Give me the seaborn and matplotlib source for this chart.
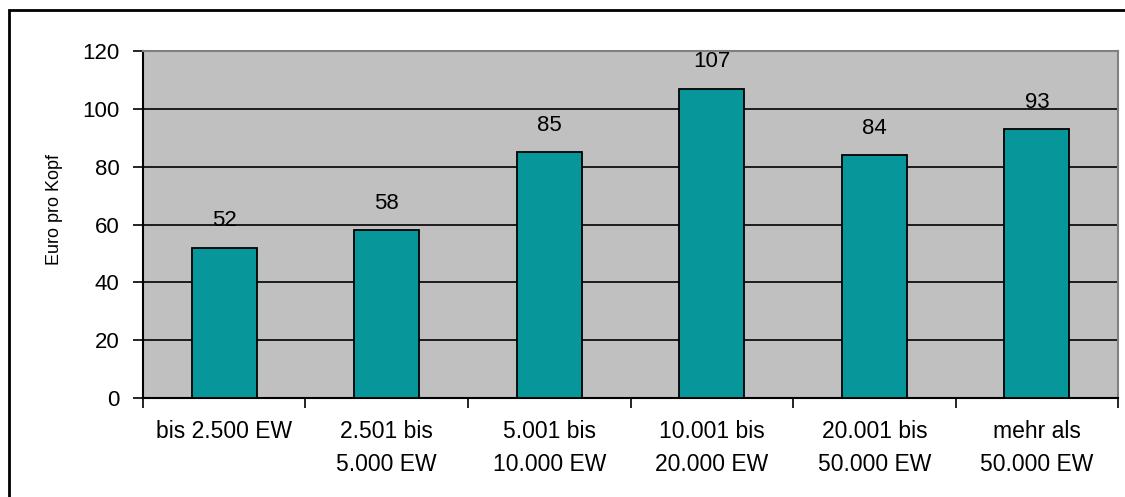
import seaborn as sns
import matplotlib.pyplot as plt
from matplotlib.patches import Rectangle

# --- data ---
categories = ["bis 2.500 EW", "2.501 bis\n5.000 EW", "5.001 bis\n10.000 EW",
              "10.001 bis\n20.000 EW", "20.001 bis\n50.000 EW", "mehr als\n50.000 EW"]
values = [52, 58, 85, 107, 84, 93]
y_ticks = [0, 20, 40, 60, 80, 100, 120]

sns.set_theme(style="white")
plt.rcParams['font.family'] = ['Liberation Sans', 'DejaVu Sans']
plt.rcParams.update({"text.color": "black", "axes.labelcolor": "black",
                     "xtick.color": "black", "ytick.color": "black"})

fig = plt.figure(figsize=(11.25, 4.97), dpi=100)
ax = fig.add_axes([0.127, 0.199, 0.867, 0.698])

sns.barplot(x=categories, y=values, color="#07979B", saturation=1,
            width=0.4, edgecolor="black", linewidth=1.3, ax=ax, zorder=3)

ax.set_facecolor("#C0C0C0")
ax.set_ylim(0, 120)
ax.set_xlim(-0.5, len(categories) - 0.5)
ax.set_yticks(y_ticks)
ax.yaxis.grid(True, color="black", linewidth=1.2, zorder=1)
ax.set_axisbelow(True)

# x ticks at category boundaries, labels centred under the bars
ax.set_xticks([i - 0.5 for i in range(len(categories) + 1)])
ax.set_xticklabels([])
ax.set_xticks(range(len(categories)), minor=True)
ax.set_xticklabels(categories, minor=True, fontsize=16.5, linespacing=1.55)
ax.tick_params(axis="x", which="major", direction="out", length=7, width=1.2,
               bottom=True)
ax.tick_params(axis="x", which="minor", length=0, pad=16)
ax.tick_params(axis="y", direction="out", length=7, width=1.2,
               left=True, labelsize=16, pad=10)

ax.set_ylabel("Euro pro Kopf", fontsize=13)
ax.yaxis.set_label_coords(-0.082, 0.545)

for spine in ["left", "bottom"]:
    ax.spines[spine].set_color("black")
    ax.spines[spine].set_linewidth(1.5)
for spine in ["top", "right"]:
    ax.spines[spine].set_color("#808080")
    ax.spines[spine].set_linewidth(1.5)

# value labels
for i, v in enumerate(values):
    ax.annotate(f"{v:.0f}", xy=(i, v), xytext=(0, 12), textcoords="offset points",
                ha="center", va="bottom", fontsize=16, zorder=4)

# outer border around the chart
fig.patches.append(Rectangle((0.008, -0.02), 1.1, 0.98 + 0.02, transform=fig.transFigure,
                             fill=False, edgecolor="black", linewidth=2))

fig.savefig("out.png", dpi=100)
